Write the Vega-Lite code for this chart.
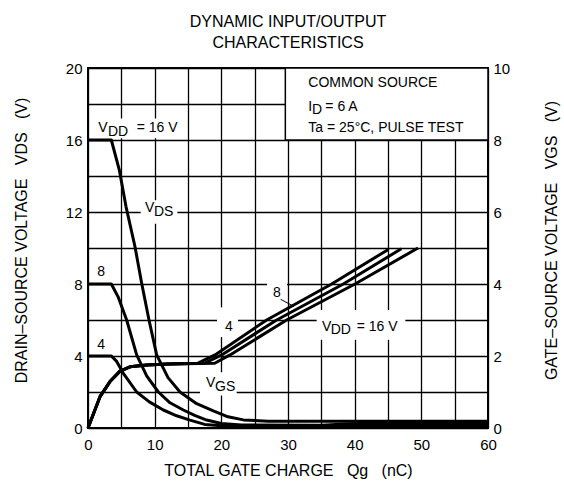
{
  "$schema": "https://vega.github.io/schema/vega-lite/v6.json",
  "width": 400,
  "height": 360,
  "autosize": {"type": "none"},
  "padding": {"left": 88, "top": 68, "right": 76, "bottom": 65},
  "background": "white",
  "title": {"text": ["DYNAMIC INPUT/OUTPUT", "CHARACTERISTICS"], "fontSize": 16, "fontWeight": "normal", "font": "Liberation Sans", "color": "#000", "anchor": "middle", "lineHeight": 21, "offset": 10},
  "config": {
    "font": "Liberation Sans",
    "view": {"stroke": "#000", "strokeWidth": 2},
    "axis": {"domain": false, "ticks": false, "gridColor": "#000", "gridOpacity": 1, "gridWidth": 1.3, "labelFont": "Liberation Sans", "labelFontSize": 15, "labelColor": "#000", "titleFont": "Liberation Sans", "titleFontSize": 16, "titleFontWeight": "normal", "titleColor": "#000", "labelFlush": false, "labelOverlap": false}
  },
  "datasets": {
    "bg": [
      {"x": 1.0, "x2": 14.0, "y": 16.1, "y2": 17.2},
      {"x": 7.9, "x2": 13.4, "y": 11.35, "y2": 12.65},
      {"x": 16.8, "x2": 22.3, "y": 1.8, "y2": 3.1},
      {"x": 19.35, "x2": 22.5, "y": 5.05, "y2": 6.7},
      {"x": 26.85, "x2": 29.85, "y": 7.1, "y2": 8.35},
      {"x": 34.3, "x2": 47.6, "y": 4.9, "y2": 6.55}
    ],
    "panel": [{"x": 29.6, "x2": 60, "y": 16, "y2": 20}],
    "vds": [
      {"s": "16", "x": 0, "y": 16}, {"s": "16", "x": 3.5, "y": 16}, {"s": "16", "x": 4.7, "y": 14.33}, {"s": "16", "x": 5.7, "y": 12.3}, {"s": "16", "x": 7.05, "y": 10.07}, {"s": "16", "x": 8.05, "y": 8.04}, {"s": "16", "x": 9.15, "y": 6.0}, {"s": "16", "x": 10.3, "y": 4.06}, {"s": "16", "x": 12.0, "y": 2.8}, {"s": "16", "x": 13.8, "y": 2.0}, {"s": "16", "x": 16.3, "y": 1.35}, {"s": "16", "x": 18.8, "y": 0.95}, {"s": "16", "x": 21.0, "y": 0.62}, {"s": "16", "x": 23.3, "y": 0.45}, {"s": "16", "x": 27.0, "y": 0.38}, {"s": "16", "x": 60, "y": 0.38},
      {"s": "8", "x": 0, "y": 8}, {"s": "8", "x": 3.5, "y": 8}, {"s": "8", "x": 4.5, "y": 7.3}, {"s": "8", "x": 5.8, "y": 6.0}, {"s": "8", "x": 7.3, "y": 4.06}, {"s": "8", "x": 8.8, "y": 2.9}, {"s": "8", "x": 10.55, "y": 2.0}, {"s": "8", "x": 12.3, "y": 1.4}, {"s": "8", "x": 14.3, "y": 1.0}, {"s": "8", "x": 16.0, "y": 0.7}, {"s": "8", "x": 17.8, "y": 0.44}, {"s": "8", "x": 20.0, "y": 0.25}, {"s": "8", "x": 23.0, "y": 0.17}, {"s": "8", "x": 35.0, "y": 0.15}, {"s": "8", "x": 40.0, "y": 0.25}, {"s": "8", "x": 60, "y": 0.25},
      {"s": "4", "x": 0, "y": 4}, {"s": "4", "x": 3.5, "y": 4}, {"s": "4", "x": 4.3, "y": 3.7}, {"s": "4", "x": 5.3, "y": 3.04}, {"s": "4", "x": 7.3, "y": 2.0}, {"s": "4", "x": 9.2, "y": 1.45}, {"s": "4", "x": 11.3, "y": 1.0}, {"s": "4", "x": 13.3, "y": 0.68}, {"s": "4", "x": 15.3, "y": 0.44}, {"s": "4", "x": 17.5, "y": 0.2}, {"s": "4", "x": 20.0, "y": 0.12}, {"s": "4", "x": 60, "y": 0.1}
    ],
    "vgs": [
      {"s": "4", "x": 0, "v": 0}, {"s": "4", "x": 1.8, "v": 0.87}, {"s": "4", "x": 3.3, "v": 1.29}, {"s": "4", "x": 4.8, "v": 1.58}, {"s": "4", "x": 6.3, "v": 1.7}, {"s": "4", "x": 8.8, "v": 1.75}, {"s": "4", "x": 12.0, "v": 1.78}, {"s": "4", "x": 16.5, "v": 1.8}, {"s": "4", "x": 19.05, "v": 2.03}, {"s": "4", "x": 26.8, "v": 3.0}, {"s": "4", "x": 36.55, "v": 4.0}, {"s": "4", "x": 45.05, "v": 4.96},
      {"s": "8", "x": 0, "v": 0}, {"s": "8", "x": 1.8, "v": 0.87}, {"s": "8", "x": 3.3, "v": 1.29}, {"s": "8", "x": 4.8, "v": 1.58}, {"s": "8", "x": 6.3, "v": 1.7}, {"s": "8", "x": 8.8, "v": 1.75}, {"s": "8", "x": 12.0, "v": 1.78}, {"s": "8", "x": 17.5, "v": 1.8}, {"s": "8", "x": 20.05, "v": 2.03}, {"s": "8", "x": 28.3, "v": 3.0}, {"s": "8", "x": 38.3, "v": 4.0}, {"s": "8", "x": 47.0, "v": 4.98},
      {"s": "16", "x": 0, "v": 0}, {"s": "16", "x": 1.8, "v": 0.87}, {"s": "16", "x": 3.3, "v": 1.29}, {"s": "16", "x": 4.8, "v": 1.58}, {"s": "16", "x": 6.3, "v": 1.7}, {"s": "16", "x": 8.8, "v": 1.75}, {"s": "16", "x": 12.0, "v": 1.78}, {"s": "16", "x": 19.0, "v": 1.8}, {"s": "16", "x": 21.3, "v": 2.03}, {"s": "16", "x": 29.8, "v": 3.0}, {"s": "16", "x": 40.05, "v": 4.0}, {"s": "16", "x": 49.5, "v": 5.0}
    ],
    "leader": [{"x": 28.9, "y": 7.15, "x2": 30.9, "y2": 6.75}],
    "labels": [
      {"text": "V", "x": 1.55, "y": 16.65},
      {"text": "DD", "x": 3.0, "y": 16.42},
      {"text": "= 16 V", "x": 7.3, "y": 16.65},
      {"text": "V", "x": 8.55, "y": 12.2},
      {"text": "DS", "x": 9.9, "y": 12.0},
      {"text": "8", "x": 1.4, "y": 8.68},
      {"text": "4", "x": 1.4, "y": 4.61},
      {"text": "V", "x": 17.7, "y": 2.5},
      {"text": "GS", "x": 19.05, "y": 2.3},
      {"text": "4", "x": 20.55, "y": 5.6},
      {"text": "8", "x": 27.75, "y": 7.48},
      {"text": "V", "x": 35.1, "y": 5.63},
      {"text": "DD", "x": 36.4, "y": 5.44},
      {"text": "= 16 V", "x": 40.3, "y": 5.63},
      {"text": "COMMON SOURCE", "x": 33.05, "y": 19.15},
      {"text": "I", "x": 33.05, "y": 17.85},
      {"text": "D", "x": 33.6, "y": 17.67},
      {"text": "= 6 A", "x": 35.6, "y": 17.85},
      {"text": "Ta = 25°C, PULSE TEST", "x": 33.05, "y": 16.65}
    ]
  },
  "encoding": {
    "x": {"field": "x", "type": "quantitative", "scale": {"domain": [0, 60], "nice": false, "zero": false},
      "axis": {"values": [0, 5, 10, 15, 20, 25, 30, 35, 40, 45, 50, 55, 60], "labelExpr": "datum.value % 10 === 0 ? datum.label : ''", "title": "TOTAL GATE CHARGE\u00a0\u00a0\u00a0Qg\u00a0\u00a0\u00a0(nC)", "labelPadding": 9, "titleY": 42, "titleBaseline": "middle", "grid": true}}
  },
  "layer": [
    {
      "encoding": {
        "y": {"field": "y", "type": "quantitative", "scale": {"domain": [0, 20], "nice": false, "zero": false},
          "axis": {"values": [0, 2, 4, 6, 8, 10, 12, 14, 16, 18, 20], "labelExpr": "datum.value % 4 === 0 ? datum.label : ''", "title": "DRAIN–SOURCE VOLTAGE\u00a0\u00a0\u00a0VDS\u00a0\u00a0\u00a0(V)", "labelPadding": 6, "titleX": -67, "titleY": 172, "titleBaseline": "middle", "grid": true}}
      },
      "layer": [
        {"data": {"name": "bg"}, "mark": {"type": "rect", "fill": "white", "strokeWidth": 0}, "encoding": {"x2": {"field": "x2"}, "y2": {"field": "y2"}}},
        {"data": {"name": "panel"}, "mark": {"type": "rect", "fill": "white", "stroke": "#000", "strokeWidth": 1.5}, "encoding": {"x2": {"field": "x2"}, "y2": {"field": "y2"}}},
        {"data": {"name": "vds"}, "mark": {"type": "line", "color": "#000", "strokeWidth": 3, "strokeJoin": "round"}, "encoding": {"detail": {"field": "s"}}},
        {"data": {"name": "leader"}, "mark": {"type": "rule", "color": "#000", "strokeWidth": 1}, "encoding": {"x2": {"field": "x2"}, "y2": {"field": "y2"}}},
        {"data": {"name": "labels"}, "mark": {"type": "text", "align": "left", "baseline": "middle", "fontSize": 14, "color": "#000"}, "encoding": {"text": {"field": "text"}}}
      ]
    },
    {
      "data": {"name": "vgs"},
      "mark": {"type": "line", "color": "#000", "strokeWidth": 3, "strokeJoin": "round"},
      "encoding": {
        "y": {"field": "v", "type": "quantitative", "scale": {"domain": [0, 10], "nice": false, "zero": false},
          "axis": {"orient": "right", "values": [0, 2, 4, 6, 8, 10], "grid": false, "title": "GATE–SOURCE VOLTAGE\u00a0\u00a0\u00a0VGS\u00a0\u00a0\u00a0(V)", "labelPadding": 5, "titleAngle": 270, "titleX": 63, "titleY": 172, "titleBaseline": "middle"}},
        "detail": {"field": "s"}
      }
    }
  ],
  "resolve": {"scale": {"y": "independent"}}
}
